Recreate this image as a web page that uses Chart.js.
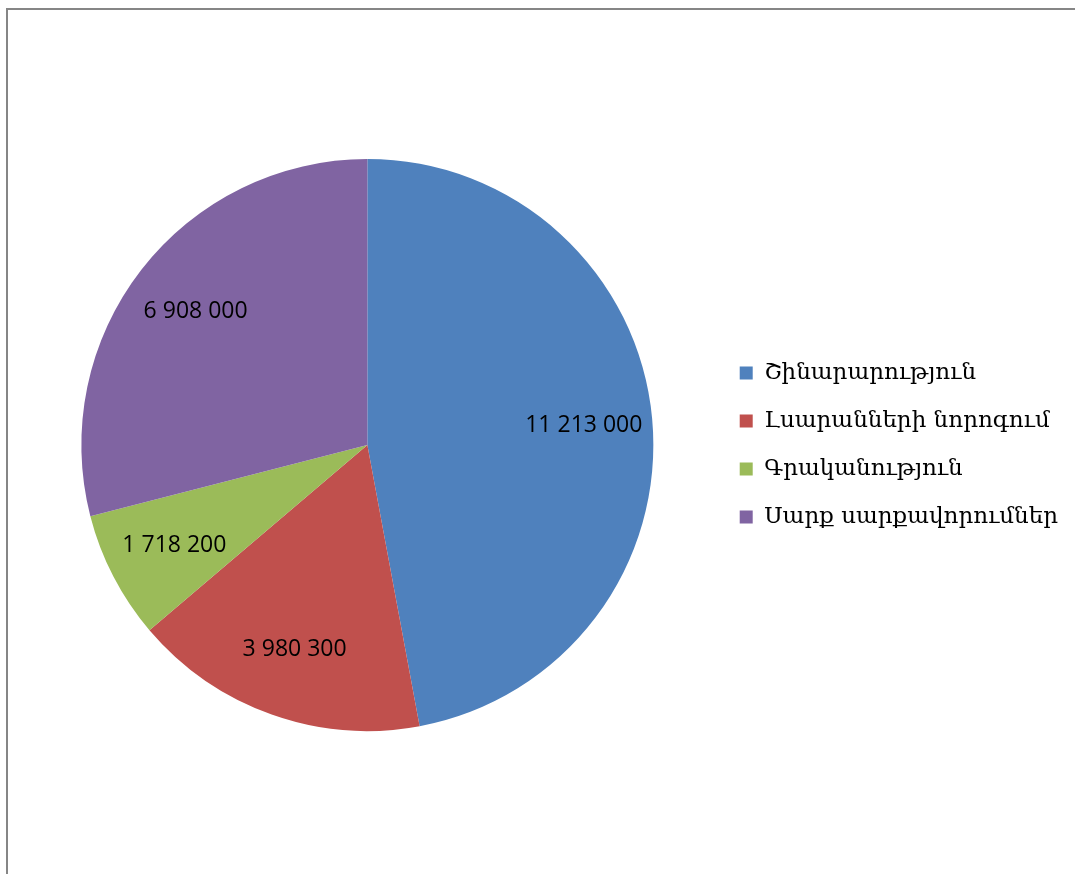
<!DOCTYPE html>
<html>
<head>
<meta charset="utf-8">
<script src="https://cdn.jsdelivr.net/npm/chart.js@4"></script>
<style>
  html, body { margin: 0; padding: 0; background: #fff; }
  canvas { display: block; }
</style>
</head>
<body>
<canvas id="chart" width="1075" height="874"></canvas>
<script>
// Data
const categories = ["Շինարարություն", "Լսարանների նորոգում", "Գրականություն", "Սարք սարքավորումներ"];
const amounts = [11213000, 3980300, 1718200, 6908000];
const sliceColors = ["#4F81BD", "#C0504D", "#9BBB59", "#8064A2"];

// format 11213000 -> "11 213 000"
function spaced(n) {
  return String(n).replace(/\B(?=(\d{3})+(?!\d))/g, " ");
}

// grey frame lines on top and left edge
const framePlugin = {
  id: "frame",
  beforeDraw(chart) {
    const ctx = chart.ctx;
    ctx.save();
    ctx.fillStyle = "#fff";
    ctx.fillRect(0, 0, chart.width, chart.height);
    ctx.strokeStyle = "#868686";
    ctx.lineWidth = 2;
    ctx.beginPath();
    ctx.moveTo(7, chart.height);
    ctx.lineTo(7, 9);
    ctx.lineTo(chart.width, 9);
    ctx.stroke();
    ctx.restore();
  }
};

// value labels inside the slices
const valueLabels = {
  id: "valueLabels",
  afterDatasetsDraw(chart) {
    const ctx = chart.ctx;
    const meta = chart.getDatasetMeta(0);
    ctx.save();
    ctx.font = "23px 'Open Sans'";
    ctx.fillStyle = "#000";
    ctx.textAlign = "center";
    ctx.textBaseline = "middle";
    meta.data.forEach((arc, i) => {
      const p = arc.getProps(["x", "y", "startAngle", "endAngle", "outerRadius"], true);
      const mid = (p.startAngle + p.endAngle) / 2;
      const r = p.outerRadius * 0.76;
      ctx.fillText(spaced(amounts[i]), p.x + Math.cos(mid) * r, p.y + Math.sin(mid) * r);
    });
    ctx.restore();
  }
};

new Chart(document.getElementById("chart"), {
  type: "pie",
  data: {
    labels: categories,
    datasets: [{
      data: amounts,
      backgroundColor: sliceColors,
      borderWidth: 0
    }]
  },
  options: {
    responsive: false,
    animation: false,
    devicePixelRatio: 1,
    layout: { padding: { left: 20, right: 7, top: 159, bottom: 143 } },
    plugins: {
      legend: {
        position: "right",
        labels: {
          boxWidth: 13,
          boxHeight: 13,
          padding: 25,
          color: "#000",
          font: { family: "'DejaVu Serif'", size: 23 }
        }
      },
      tooltip: { enabled: false }
    }
  },
  plugins: [framePlugin, valueLabels]
});
</script>
</body>
</html>
